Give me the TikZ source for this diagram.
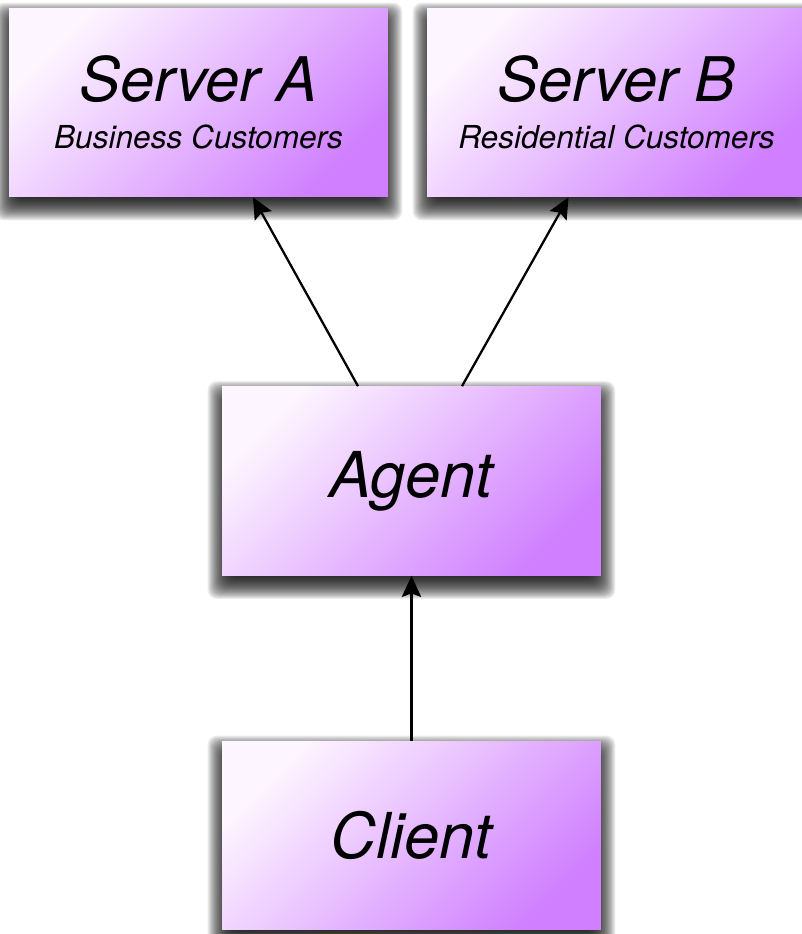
\documentclass[tikz,border=0pt]{standalone}
\usepackage{fontspec}
\setmainfont{TeX Gyre Heros}
\usetikzlibrary{arrows.meta,backgrounds}

\definecolor{boxlight}{RGB}{253,245,255}
\definecolor{boxdark}{RGB}{208,128,255}

\begin{document}
\begin{tikzpicture}[x=0.02cm,y=-0.02cm]
      \useasboundingbox (0,0) rectangle (802,934);

      \begin{scope}[every node/.style={rectangle, minimum width=7.58cm, minimum height=3.78cm, inner sep=0pt,
          top color=boxlight, bottom color=boxdark, shading angle=45,
          align=center, font=\fontsize{18}{26.6}\selectfont\itshape}]
        \node (0) at (198.5,102.5) {{\fontsize{35}{42}\selectfont Server A}\\ Business Customers};
        \node (1) at (616.5,102.5) {{\fontsize{35}{42}\selectfont Server B}\\ Residential Customers};
        \node (2) at (411.5,481) {\fontsize{36}{42}\selectfont Agent};
        \node (3) at (411.5,835.5) {\fontsize{36}{42}\selectfont Client};
      \end{scope}

      % soft drop shadows, stacked under the boxes
      \begin{scope}[on background layer]
        \foreach \n in {0,1,2,3}{
          \foreach \r in {-12,...,14}{
            \fill[black, opacity=0.07, rounded corners=5pt]
              ([shift={(-\r,\r+9)}]\n.south west) rectangle ([shift={(\r,-\r+9)}]\n.north east);
          }
        }
      \end{scope}

      \begin{scope}[->, >={Stealth[length=12pt,width=11pt,inset=2pt]}, line width=1.3pt]
        \draw ([xshift=-1.07cm]2.north) to ([xshift=1.09cm]0.south);
        \draw ([xshift=1.01cm]2.north) to ([xshift=-0.96cm]1.south);
        \draw (3) to (2);
      \end{scope}
\end{tikzpicture}
\end{document}
